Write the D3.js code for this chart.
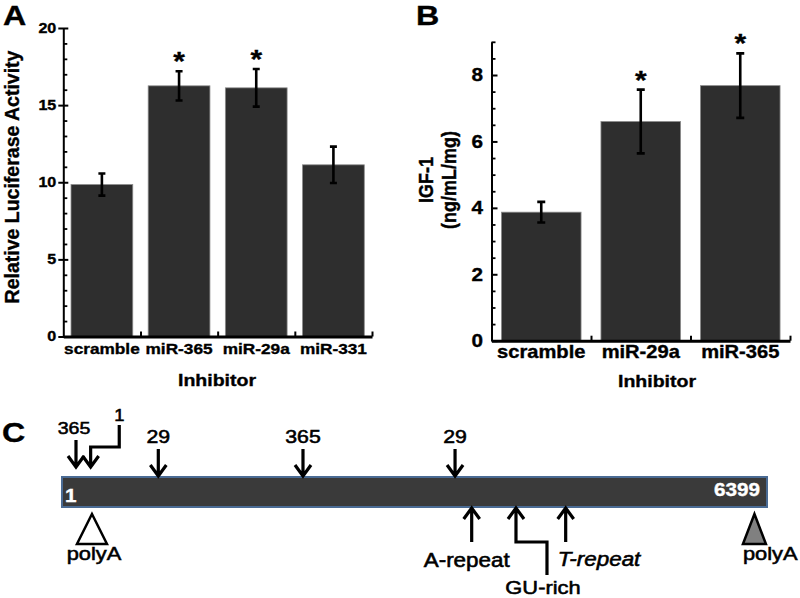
<!DOCTYPE html>
<html><head><meta charset="utf-8">
<script src="https://cdn.jsdelivr.net/npm/d3@7"></script>
<style>body{margin:0;background:#fff}svg{display:block}</style>
</head><body><svg id="c" width="800" height="598"></svg>
<script>
// ---------- data ----------
const categoriesA = ["scramble", "miR-365", "miR-29a", "miR-331"];
const valuesA = [9.85, 16.25, 16.12, 11.13];
const errorsA = [0.72, 0.95, 1.22, 1.18];
const significantA = [false, true, true, false];
const tickValuesA = [0, 5, 10, 15, 20];
const minorTicksA = [1, 2, 3, 4, 6, 7, 8, 9, 11, 12, 13, 14, 16, 17, 18, 19];

const categoriesB = ["scramble", "miR-29a", "miR-365"];
const valuesB = [3.87, 6.6, 7.68];
const errorsB = [0.31, 0.96, 0.97];
const significantB = [false, true, true];
const tickValuesB = [0, 2, 4, 6, 8];
const minorTicksB = [0.5, 1, 1.5, 2.5, 3, 3.5, 4.5, 5, 5.5, 6.5, 7, 7.5, 8.5, 9];

const transcriptLength = 6399;
const siteLabels = ["365", "1", "29", "365", "29"];
const sitePositions = [128, 261, 875, 2188, 3568];
const elementLabels = ["A-repeat", "GU-rich", "T-repeat"];
const elementPositions = [3719, 4121, 4572];
const polyAPositions = [273, 6285];

// ---------- helpers ----------
const FONT = "'Liberation Sans', Arial, sans-serif";
const SX = 1.15;
const svg = d3.select("#c").attr("font-family", FONT);

function label(g, x, y, s, o = {}) {
  let tr = `translate(${x},${y}) scale(${o.sx || SX},1)`;
  if (o.rotate) tr += ` rotate(${o.rotate})`;
  const fill = o.fill || "#000";
  const bold = (o.weight || "bold") === "bold";
  return g.append("text").attr("transform", tr)
    .attr("text-anchor", o.anchor || "middle")
    .attr("font-size", o.size || 16)
    .attr("font-weight", o.weight || "bold")
    .attr("font-style", o.italic ? "italic" : null)
    .attr("fill", fill)
    .attr("stroke", fill).attr("stroke-width", bold ? 0.35 : 0.55)
    .text(s);
}
function stretchText(g) {
  g.selectAll(".tick text").each(function () {
    const t = d3.select(this);
    const x = +t.attr("x") || 0, y = +t.attr("y") || 0;
    t.attr("x", null).attr("y", null)
      .attr("transform", `translate(${x},${y}) scale(${SX},1)`)
      .attr("stroke", "#000").attr("stroke-width", 0.35);
  });
}

function barPanel(cfg) {
  const g = svg.append("g");
  const x = d3.scaleBand().domain(cfg.cats).range([cfg.x0, cfg.x1]).paddingInner(0.2).paddingOuter(0.1);
  const y = d3.scaleLinear().domain(cfg.domain).range([cfg.y0, cfg.y1]);

  g.selectAll("rect.bar").data(cfg.cats).join("rect").attr("class", "bar")
    .attr("x", d => x(d)).attr("width", x.bandwidth())
    .attr("y", (d, i) => y(cfg.vals[i])).attr("height", (d, i) => y(0) - y(cfg.vals[i]))
    .attr("fill", "#2e2e2e").attr("stroke", "#8a8a8a").attr("stroke-width", 0.8);

  g.selectAll("path.err").data(cfg.cats).join("path").attr("class", "err")
    .attr("d", (d, i) => {
      const cx = x(d) + x.bandwidth() / 2, c = cfg.cap;
      const t = y(cfg.vals[i] + cfg.errs[i]), b = y(cfg.vals[i] - cfg.errs[i]);
      return `M${cx - c},${t}H${cx + c}M${cx},${t}V${b}M${cx - c},${b}H${cx + c}`;
    })
    .attr("fill", "none").attr("stroke", "#000").attr("stroke-width", 2.6);

  cfg.cats.forEach((d, i) => {
    if (!cfg.sig[i]) return;
    const cx = x(d) + x.bandwidth() / 2;
    label(g, cx, y(cfg.vals[i] + cfg.errs[i]) - 1, "*", { size: 26 });
  });

  // y axis (major)
  const yAx = g.append("g").attr("transform", `translate(${cfg.x0},0)`)
    .call(d3.axisLeft(y).tickValues(cfg.ticks).tickSizeInner(cfg.tickIn).tickSizeOuter(0).tickPadding(cfg.tickPad))
    .attr("font-family", FONT).attr("font-size", cfg.yFont).attr("font-weight", "bold");
  yAx.select(".domain").attr("stroke-width", 2);
  yAx.selectAll(".tick line").attr("stroke-width", 2);
  if (cfg.bothSides) yAx.selectAll(".tick line").attr("x1", 5);
  stretchText(yAx);
  // y axis (minor)
  g.append("g").attr("transform", `translate(${cfg.x0},0)`)
    .call(d3.axisRight(y).tickValues(cfg.minor).tickSize(4).tickFormat(""))
    .call(s => s.select(".domain").remove())
    .selectAll(".tick line").attr("stroke-width", 1.8);

  // x axis
  const xAx = g.append("g").attr("transform", `translate(0,${cfg.y0})`)
    .call(d3.axisBottom(x).tickSize(0).tickSizeOuter(0).tickPadding(cfg.xPad))
    .attr("font-family", FONT).attr("font-size", cfg.xFont).attr("font-weight", "bold");
  xAx.select(".domain").attr("stroke-width", 3);
  stretchText(xAx);
  const bound = d3.scaleLinear().domain([0, cfg.cats.length]).range(x.range());
  g.append("g").attr("transform", `translate(0,${cfg.y0})`)
    .call(d3.axisTop(bound).tickValues(d3.range(1, cfg.cats.length + 1)).tickSize(5).tickFormat(""))
    .call(s => s.select(".domain").remove())
    .selectAll(".tick line").attr("stroke-width", 2);
  return g;
}

// ---------- Panel A ----------
const gA = barPanel({
  cats: categoriesA, vals: valuesA, errs: errorsA, sig: significantA,
  ticks: tickValuesA, minor: minorTicksA, domain: [0, 20],
  x0: 63.3, x1: 372, y0: 336.5, y1: 28, cap: 3.5,
  tickIn: 5, tickPad: 2, bothSides: true, yFont: 14, xFont: 15, xPad: 7
});
label(gA, 3, 25, "A", { size: 28, anchor: "start" });
label(gA, 18.5, 177, "Relative Luciferase Activity", { size: 19.5, rotate: -90, sx: 1.0 });
label(gA, 217, 386, "Inhibitor", { size: 17 });

// ---------- Panel B ----------
const gB = barPanel({
  cats: categoriesB, vals: valuesB, errs: errorsB, sig: significantB,
  ticks: tickValuesB, minor: minorTicksB, domain: [0, 9],
  x0: 491.5, x1: 790, y0: 340.7, y1: 41.8, cap: 4,
  tickIn: -6, tickPad: 8.5, bothSides: false, yFont: 18, xFont: 17.5, xPad: 5
});
label(gB, 416, 25, "B", { size: 28, anchor: "start" });
label(gB, 433, 180, "IGF-1", { size: 18, rotate: -90 });
label(gB, 456, 180, "(ng/mL/mg)", { size: 18, rotate: -90 });
label(gB, 657, 387, "Inhibitor", { size: 17 });

// ---------- Panel C ----------
const gC = svg.append("g");
const xC = d3.scaleLinear().domain([1, transcriptLength]).range([62, 767]);
const barTop = 477, barH = 30;
label(gC, 2, 442, "C", { size: 28, anchor: "start" });

gC.append("rect").attr("x", xC(1)).attr("y", barTop)
  .attr("width", xC(transcriptLength) - xC(1)).attr("height", barH)
  .attr("fill", "#3a3a3a").attr("stroke", "#4a6b94").attr("stroke-width", 2);
label(gC, xC(1) + 3, barTop + 25, "1", { size: 18, anchor: "start", fill: "#fff" });
label(gC, xC(transcriptLength) - 7, barTop + 19, String(transcriptLength), { size: 18, anchor: "end", fill: "#fff" });

const arrowStyle = s => s.attr("fill", "none").attr("stroke", "#000").attr("stroke-width", 3.2).attr("stroke-linejoin", "miter");
const headDown = (x, tip) => `M${x - 8},${tip - 11}L${x},${tip}L${x + 8},${tip - 11}`;
const headUp = (x, tip) => `M${x - 8},${tip + 11}L${x},${tip}L${x + 8},${tip + 11}`;

// miRNA sites (down arrows)
sitePositions.forEach((p, i) => {
  const x = xC(p);
  const raised = i < 2;               // clustered sites at the 5' end sit higher
  const tip = raised ? barTop - 10 : barTop - 1;
  if (i === 1) {                        // bent leader for site "1"
    const xb = x + 28.6;
    gC.append("path").attr("d", `M${xb},425V447H${x}V${tip}` + headDown(x, tip)).call(arrowStyle);
    label(gC, xb, 421, siteLabels[i], { size: 16, weight: "normal" });
  } else {
    const top = tip - 27;
    gC.append("path").attr("d", `M${x},${top}V${tip}` + headDown(x, tip)).call(arrowStyle);
    label(gC, x - (raised ? 2 : 0), top - 6, siteLabels[i], { size: raised ? 17 : 18.5, weight: "normal" });
  }
});

// sequence elements (up arrows)
const upTip = barTop + barH + 1, upEnd = 542;
elementPositions.forEach((p, i) => {
  const x = xC(p);
  if (i === 1) {
    const xb = x + 31;
    gC.append("path").attr("d", `M${x},${upTip}V${upEnd}H${xb}V575` + headUp(x, upTip)).call(arrowStyle);
    label(gC, xb - 4, 594, elementLabels[i], { size: 19, weight: "normal" });
  } else {
    gC.append("path").attr("d", `M${x},${upTip}V${upEnd}` + headUp(x, upTip)).call(arrowStyle);
    if (i === 0) label(gC, x - 5, 567, elementLabels[i], { size: 19.5, weight: "normal" });
    else label(gC, x - 8, 566, elementLabels[i], { size: 19.5, weight: "normal", anchor: "start", italic: true });
  }
});

// polyA signals
polyAPositions.forEach((p, i) => {
  const x = xC(p);
  const hw = i === 0 ? 15 : 11.5;
  gC.append("path").attr("d", `M${x},514L${x + hw},544L${x - hw},544Z`)
    .attr("fill", i === 0 ? "#fff" : "#808080").attr("stroke", "#000").attr("stroke-width", 2.5)
    .attr("stroke-linejoin", "miter");
  if (i === 0) label(gC, x + 2, 560, "polyA", { size: 19, weight: "normal" });
  else label(gC, x - 11.5, 560, "polyA", { size: 19, weight: "normal", anchor: "start" });
});
</script>
</body></html>
